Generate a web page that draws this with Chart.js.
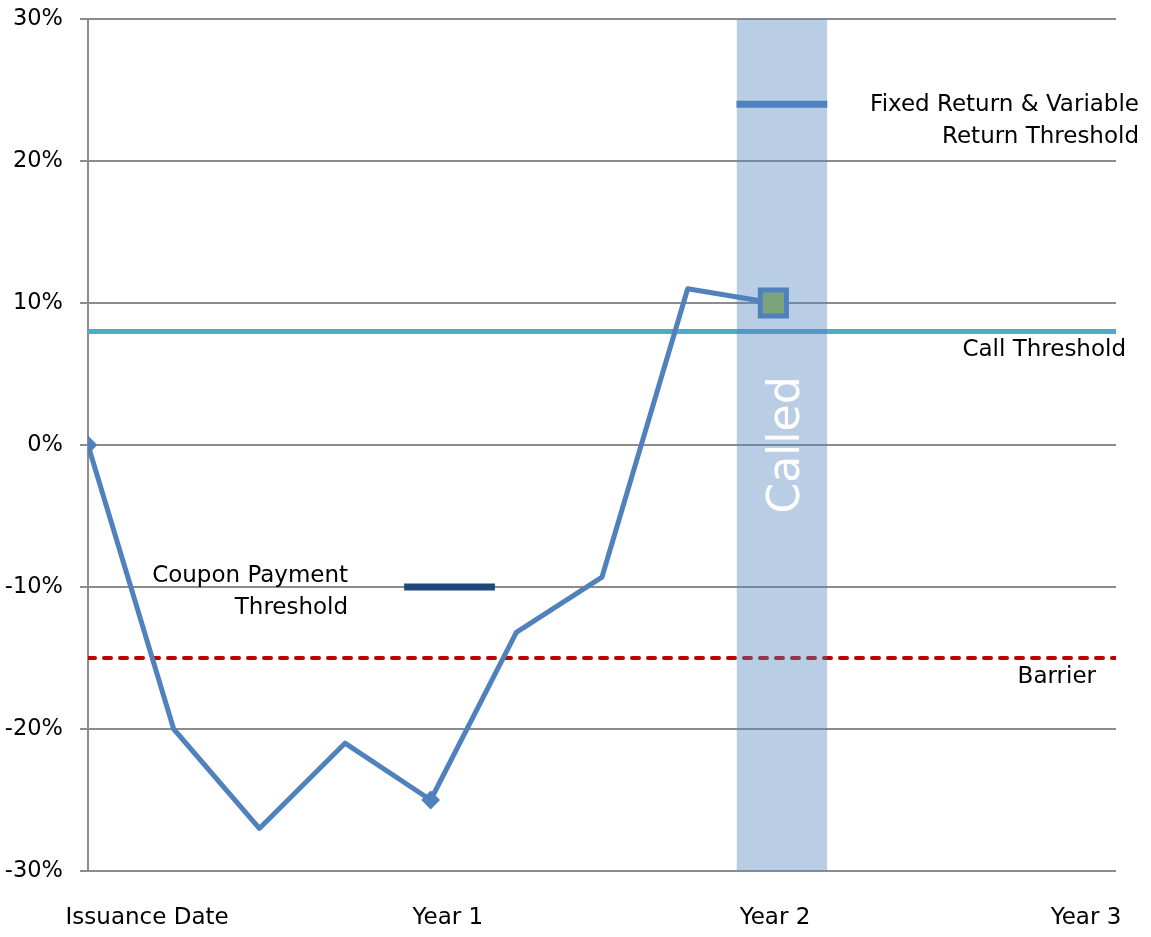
<!DOCTYPE html>
<html>
<head>
<meta charset="utf-8">
<script src="https://cdn.jsdelivr.net/npm/chart.js@4/dist/chart.umd.min.js"></script>
<style>
  html, body { margin: 0; padding: 0; background: #ffffff; }
  #wrap { width: 1151px; height: 937px; }
</style>
</head>
<body>
<div id="wrap"><canvas id="chart" width="1151" height="937"></canvas></div>
<script>
// Underlying performance (% change since issuance) at each observation period
const periods = [0, 1, 2, 3, 4, 5, 6, 7, 8];
const performance = [0, -20, -27, -21, -25, -13.2, -9.3, 11, 10];

// Threshold levels (%)
const callThreshold = 8;
const barrierLevel = -15;
const couponThreshold = -10;
const fixedReturnThreshold = 24;

// Period ranges covered by the threshold segments and the call window
const fullSpan = [0, 12];
const couponSpan = [3.69, 4.75];
const calledSpan = [7.57, 8.63];

// Axis text
const xTickLabels = ['Issuance Date', 'Year 1', 'Year 2', 'Year 3'];
const yRange = [-30, 30];
const yStep = 10;

// Annotation text
const fixedReturnText = ['Fixed Return & Variable', 'Return Threshold'];
const callText = 'Call Threshold';
const barrierText = 'Barrier';
const couponText = ['Coupon Payment', 'Threshold'];
const calledText = 'Called';

const FONT = '"DejaVu Sans", sans-serif';
const BLUE = '#4f81bd';

const seg = (span, level) => span.map(p => ({ x: p, y: level }));

// Marker per observation: diamonds at issuance and year 1, square at the call date
const lastIdx = performance.length - 1;
const markerStyle = performance.map((_, i) => i === lastIdx ? 'rect' : 'rectRot');
const markerRadius = performance.map((_, i) => i === lastIdx ? 18.5 : (i === 0 || i === 4) ? 8 : 0);
const markerFill = performance.map((_, i) => i === lastIdx ? '#7ba47d' : BLUE);
const markerBorder = performance.map((_, i) => i === lastIdx ? 5 : 2);

// Keep the plot area fixed: no extra room reserved for overhanging tick labels
function noLabelPadding(scale) {
  scale.paddingTop = 0;
  scale.paddingBottom = 0;
  scale.paddingLeft = 0;
  scale.paddingRight = 0;
}

// Text labels placed next to the threshold lines
const annotations = {
  id: 'annotations',
  afterDatasetsDraw(chart) {
    const { ctx, chartArea: a, scales: { x, y } } = chart;
    ctx.save();
    ctx.fillStyle = '#000000';
    ctx.font = '23px ' + FONT;
    ctx.textAlign = 'right';
    ctx.textBaseline = 'middle';

    const fy = y.getPixelForValue(fixedReturnThreshold);
    ctx.fillText(fixedReturnText[0], a.right + 23, fy + 1);
    ctx.fillText(fixedReturnText[1], a.right + 23, fy + 33);

    ctx.fillText(callText, a.right + 10, y.getPixelForValue(callThreshold) + 19);
    ctx.fillText(barrierText, a.right - 20, y.getPixelForValue(barrierLevel) + 19);

    const cx = x.getPixelForValue(couponSpan[0]) - 56;
    const cy = y.getPixelForValue(couponThreshold);
    ctx.fillText(couponText[0], cx, cy - 11);
    ctx.fillText(couponText[1], cx, cy + 21);

    // vertical caption inside the call window
    const bx = (x.getPixelForValue(calledSpan[0]) + x.getPixelForValue(calledSpan[1])) / 2;
    ctx.translate(bx + 17, y.getPixelForValue(0));
    ctx.rotate(-Math.PI / 2);
    ctx.fillStyle = '#ffffff';
    ctx.font = '44px ' + FONT;
    ctx.textAlign = 'center';
    ctx.textBaseline = 'alphabetic';
    ctx.fillText(calledText, 0, 0);
    ctx.restore();
  }
};

new Chart(document.getElementById('chart'), {
  type: 'line',
  data: {
    datasets: [
      {
        label: 'Performance',
        data: periods.map((p, i) => ({ x: p, y: performance[i] })),
        borderColor: BLUE,
        borderWidth: 5,
        borderJoinStyle: 'round',
        tension: 0,
        pointStyle: markerStyle,
        pointRadius: markerRadius,
        pointBackgroundColor: markerFill,
        pointBorderColor: BLUE,
        pointBorderWidth: markerBorder,
        order: 0
      },
      {
        label: 'Fixed Return & Variable Return Threshold',
        data: seg(calledSpan, fixedReturnThreshold),
        borderColor: BLUE,
        borderWidth: 7,
        borderCapStyle: 'butt',
        pointRadius: 0,
        order: 1
      },
      {
        label: 'Called',
        data: seg(calledSpan, yRange[1]),
        borderWidth: 0,
        borderColor: 'rgba(0,0,0,0)',
        backgroundColor: 'rgba(79,129,189,0.4)',
        fill: { value: yRange[0] },
        pointRadius: 0,
        order: 2
      },
      {
        label: 'Call Threshold',
        data: seg(fullSpan, callThreshold),
        borderColor: '#4bacc6',
        borderWidth: 5,
        pointRadius: 0,
        order: 3
      },
      {
        label: 'Barrier',
        data: seg(fullSpan, barrierLevel),
        borderColor: '#c00000',
        borderWidth: 4,
        borderDash: [7, 9],
        borderCapStyle: 'round',
        pointRadius: 0,
        order: 4
      },
      {
        label: 'Coupon Payment Threshold',
        data: seg(couponSpan, couponThreshold),
        borderColor: '#1f497d',
        borderWidth: 7,
        borderCapStyle: 'butt',
        pointRadius: 0,
        order: 5
      }
    ]
  },
  options: {
    responsive: false,
    animation: false,
    events: [],
    layout: { autoPadding: false, padding: { top: 19, right: 35, left: 0, bottom: 0 } },
    plugins: { legend: { display: false }, tooltip: { enabled: false } },
    scales: {
      x: {
        type: 'linear',
        min: fullSpan[0],
        max: fullSpan[1],
        grid: { display: false, drawTicks: false },
        border: { display: false },
        afterBuildTicks(scale) {
          // label anchors along the period axis
          scale.ticks = [0.69, 4.2, 8.02, 11.65].map(v => ({ value: v }));
        },
        ticks: {
          autoSkip: false,
          maxRotation: 0,
          padding: 33,
          color: '#000000',
          font: { family: FONT, size: 23 },
          callback: (v, i) => xTickLabels[i]
        },
        afterFit(scale) { scale.height = 66; noLabelPadding(scale); }
      },
      y: {
        min: yRange[0],
        max: yRange[1],
        ticks: {
          stepSize: yStep,
          padding: 17,
          color: '#000000',
          font: { family: FONT, size: 22.5 },
          callback: v => v + '%'
        },
        grid: { color: '#8c8c8c', lineWidth: 2, tickLength: 8, drawTicks: true },
        border: { display: true, color: '#8c8c8c', width: 2 },
        afterFit(scale) { scale.width = 88; noLabelPadding(scale); }
      }
    }
  },
  plugins: [annotations]
});
</script>
</body>
</html>
